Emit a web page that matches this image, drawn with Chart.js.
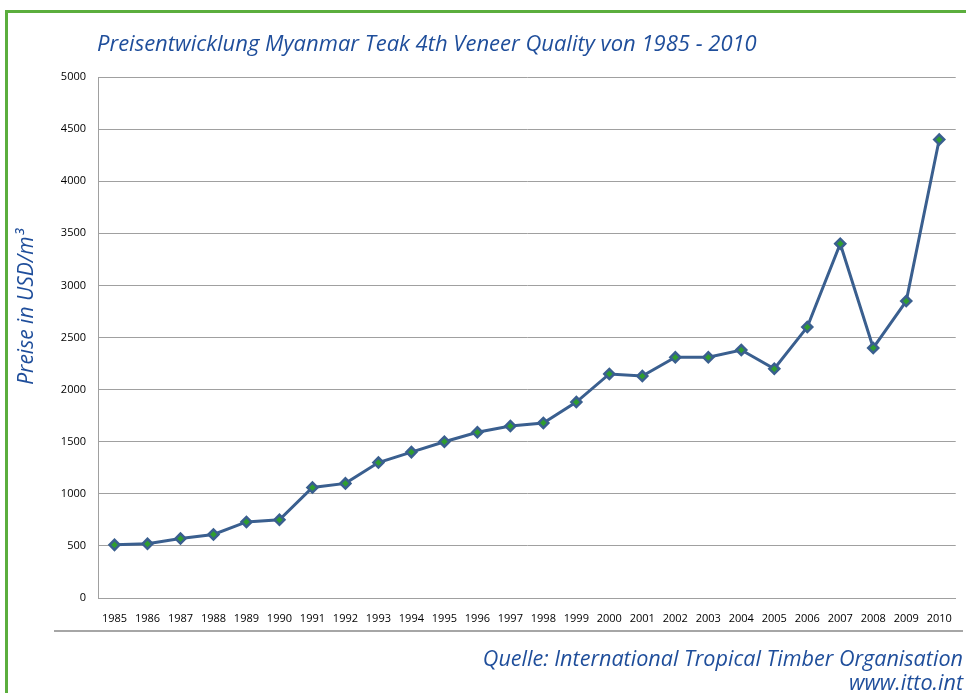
<!DOCTYPE html>
<html><head><meta charset="utf-8">
<script src="https://cdn.jsdelivr.net/npm/chart.js@4.4.1/dist/chart.umd.min.js"></script>
<style>html,body{margin:0;padding:0;background:#fff;}canvas{display:block}</style>
</head><body>
<canvas id="c" width="966" height="693"></canvas>
<script>
const years = ['1985','1986','1987','1988','1989','1990','1991','1992','1993','1994','1995','1996','1997','1998','1999','2000','2001','2002','2003','2004','2005','2006','2007','2008','2009','2010'];
const prices = [510,520,570,610,730,750,1060,1100,1300,1400,1500,1590,1650,1680,1880,2150,2130,2310,2310,2380,2200,2600,3400,2400,2850,4400];
const yTicks = [0,500,1000,1500,2000,2500,3000,3500,4000,4500,5000];
const titleText = 'Preisentwicklung Myanmar Teak 4th Veneer Quality von 1985 - 2010';
const yAxisTitle = 'Preise in USD/m³';
const sourceLines = ['Quelle: International Tropical Timber Organisation', 'www.itto.int'];

const FONT = '"Open Sans", "Noto Sans", sans-serif';
const BLUE = '#1F4E9B';

const decor = {
  id: 'decor',
  afterDraw(chart) {
    const ctx = chart.ctx;
    ctx.save();
    // green frame
    ctx.strokeStyle = '#5BAE3D';
    ctx.lineWidth = 3;
    ctx.beginPath();
    ctx.moveTo(6.5, 700);
    ctx.lineTo(6.5, 11.5);
    ctx.lineTo(970, 11.5);
    ctx.stroke();
    // title
    ctx.fillStyle = BLUE;
    ctx.textBaseline = 'middle';
    ctx.textAlign = 'left';
    let fs = 20;
    ctx.font = 'italic ' + fs + 'px ' + FONT;
    const w = ctx.measureText(titleText).width;
    fs = fs * 660 / w;
    ctx.font = 'italic ' + fs.toFixed(2) + 'px ' + FONT;
    ctx.fillText(titleText, 97, 45);
    // y axis title
    ctx.save();
    ctx.translate(27, 307);
    ctx.rotate(-Math.PI / 2);
    ctx.textAlign = 'center';
    ctx.font = 'italic 21px ' + FONT;
    ctx.fillText(yAxisTitle, 0, 0);
    ctx.restore();
    // separator
    ctx.strokeStyle = '#A6A6A6';
    ctx.lineWidth = 2;
    ctx.beginPath();
    ctx.moveTo(54, 631);
    ctx.lineTo(963, 631);
    ctx.stroke();
    // source text
    ctx.textAlign = 'right';
    ctx.font = 'italic 21.6px ' + FONT;
    ctx.fillText(sourceLines[0], 963, 660);
    ctx.fillText(sourceLines[1], 963, 684);
    ctx.restore();
  }
};

new Chart(document.getElementById('c'), {
  type: 'line',
  data: {
    labels: years,
    datasets: [{
      data: prices,
      borderColor: '#3A5F8F',
      borderWidth: 3,
      pointStyle: 'rectRot',
      pointRadius: 5,
      pointBorderWidth: 2.5,
      pointBackgroundColor: '#2F9E2F',
      pointBorderColor: '#3A5F8F',
      tension: 0
    }]
  },
  options: {
    responsive: false,
    animation: false,
    layout: { padding: { left: 8, top: 77, right: 10, bottom: 55 } },
    plugins: { legend: { display: false }, title: { display: false }, tooltip: { enabled: false } },
    scales: {
      x: {
        offset: true,
        grid: { display: false, drawTicks: false, offset: true },
        border: { display: true, color: '#A0A0A0', width: 1 },
        ticks: { color: '#000', font: { family: FONT, size: 11 }, padding: 14, maxRotation: 0, autoSkip: false },
        afterFit: s => { s.height = 40; }
      },
      y: {
        min: 0, max: 5000,
        afterBuildTicks: s => { s.ticks = yTicks.map(v => ({ value: v })); },
        grid: { color: '#A0A0A0', drawTicks: false },
        border: { display: true, color: '#A0A0A0', width: 1 },
        ticks: { color: '#000', font: { family: FONT, size: 11 }, padding: 12, callback: v => String(v) },
        afterFit: s => { s.width = 90; }
      }
    }
  },
  plugins: [decor]
});
</script>
</body></html>
